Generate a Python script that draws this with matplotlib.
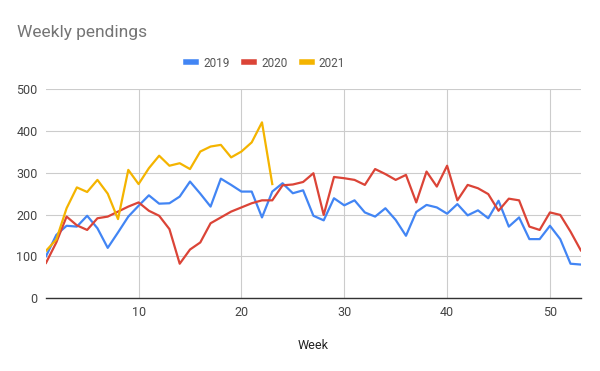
import numpy as np
import matplotlib.pyplot as plt

weeks_2019 = list(range(1, 54))
pend_2019 = [100, 151, 173, 171, 197, 167, 120, 157, 195, 221,
             246, 226, 227, 243, 279, 250, 219, 286, 271, 255,
             255, 193, 255, 275, 251, 258, 197, 186, 239, 222,
             234, 205, 195, 215, 187, 149, 206, 223, 217, 202,
             225, 198, 210, 191, 233, 171, 193, 141, 141, 173,
             141, 82, 80]

weeks_2020 = list(range(1, 54))
pend_2020 = [84, 133, 195, 174, 163, 191, 195, 207, 219, 229,
             209, 197, 165, 82, 116, 133, 179, 193, 207, 217,
             227, 234, 234, 270, 272, 278, 299, 199, 290, 287,
             283, 271, 309, 297, 283, 295, 229, 303, 267, 317,
             234, 271, 263, 249, 209, 238, 234, 171, 163, 205,
             199, 159, 114]

weeks_2021 = list(range(1, 24))
pend_2021 = [113, 140, 215, 265, 254, 283, 250, 189, 307, 273,
             311, 341, 317, 323, 309, 351, 363, 367, 337, 351,
             373, 421, 273]

x_ticks = [10, 20, 30, 40, 50]
y_ticks = [0, 100, 200, 300, 400, 500]

plt.rcParams['font.family'] = ['Roboto', 'DejaVu Sans']

fig = plt.figure(figsize=(6, 3.71), dpi=100)
ax = fig.add_axes([0.0767, 0.197, 0.8913, 0.562])

ax.plot(weeks_2019, pend_2019, color='#4285F4', lw=1.6, label='2019')
ax.plot(weeks_2020, pend_2020, color='#DB4437', lw=1.6, label='2020')
ax.plot(weeks_2021, pend_2021, color='#F4B400', lw=1.6, label='2021')

ax.set_xlim(1, 53)
ax.set_ylim(0, 500)
ax.set_xticks(x_ticks)
ax.set_yticks(y_ticks)
ax.grid(True, color='#cccccc', lw=0.8)
ax.set_axisbelow(True)
for s in ['top', 'right', 'left']:
    ax.spines[s].set_visible(False)
ax.spines['bottom'].set_color('#333333')
ax.spines['bottom'].set_linewidth(1.0)
ax.tick_params(length=0, colors='#444444', labelsize=9, pad=6)
ax.set_xlabel('Week', color='#222222', fontsize=9, labelpad=14)

fig.text(0.028, 0.912, 'Weekly pendings', fontsize=12.5, color='#757575', va='center')

leg = fig.legend(loc='center', bbox_to_anchor=(0.443, 0.83), ncol=3, frameon=False,
                 fontsize=8.5, handlelength=0.85, handletextpad=0.6, columnspacing=1.2)
for h in leg.get_lines():
    h.set_linewidth(4)
for t in leg.get_texts():
    t.set_color('#555555')

fig.savefig('out.png', dpi=100)
